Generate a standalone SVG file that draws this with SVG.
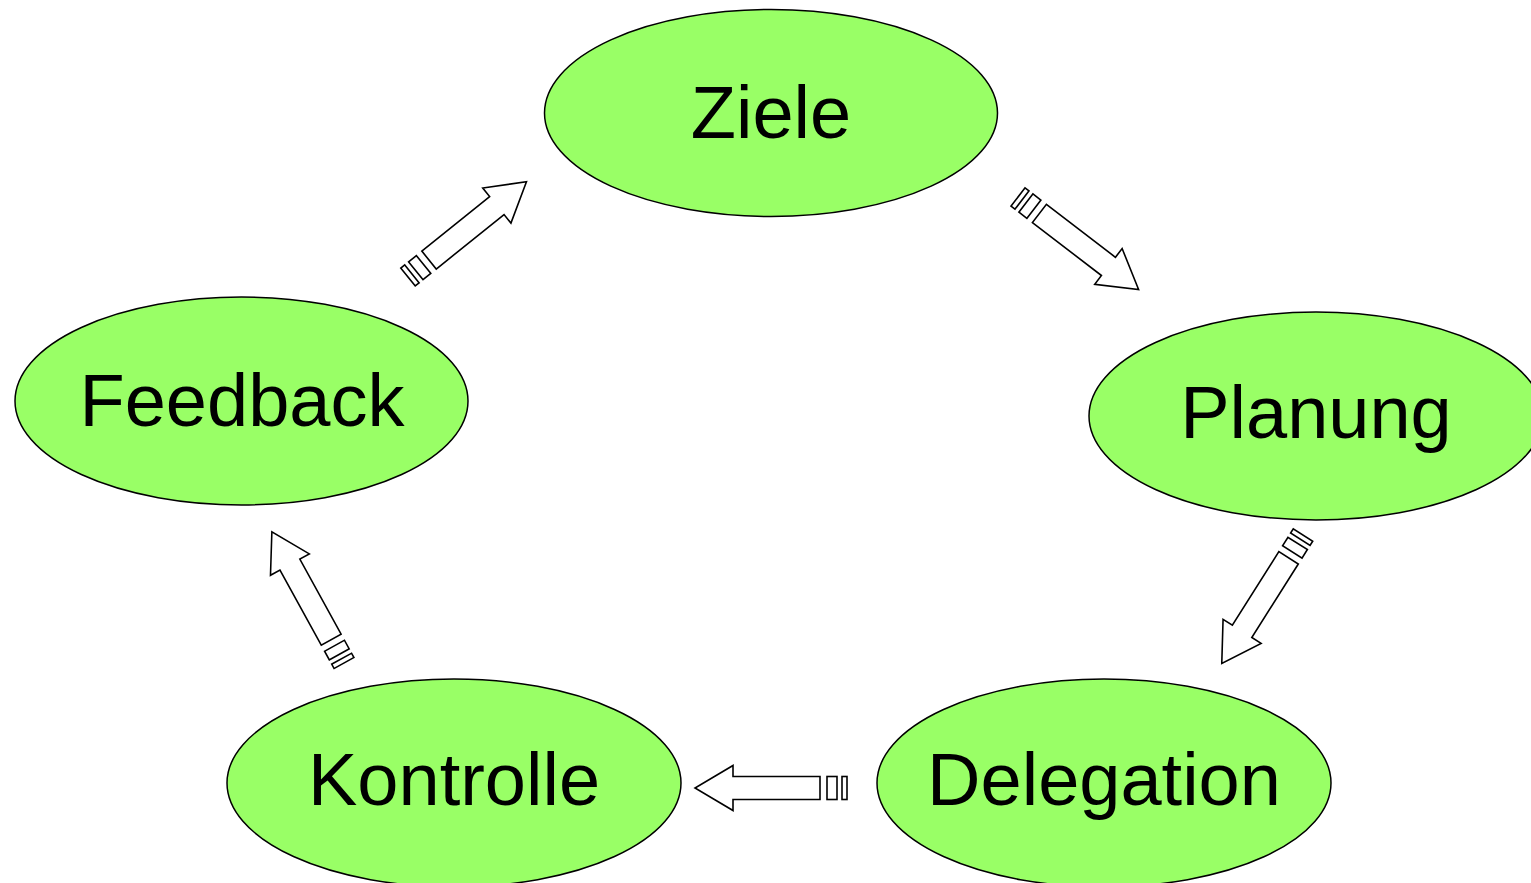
<svg xmlns="http://www.w3.org/2000/svg" xmlns:xlink="http://www.w3.org/1999/xlink" width="1531" height="883" viewBox="0 0 1531 883">
  <style>
    .node ellipse { fill: #99ff66; stroke: #000; stroke-width: 1.5; }
    .node text { font-family: "Liberation Sans", Arial, sans-serif; font-size: 74px; fill: #000; text-anchor: middle; }
    .arrow path, .arrow rect { fill: #fff; stroke: #000; stroke-width: 1.6; stroke-linejoin: miter; }
  </style>
  <defs>
    <!-- block arrow with striped tail; tail at origin, pointing along +x -->
    <g id="blockArrow" class="arrow">
      <rect x="0" y="-11.5" width="5" height="23"/>
      <rect x="10" y="-11.5" width="10" height="23"/>
      <path d="M27,-11.5 H114 V-22.5 L152,0 L114,22.5 V11.5 H27 Z"/>
    </g>
  </defs>
  <rect width="1531" height="883" fill="#fff"/>

  <g id="node-ziele" class="node">
    <ellipse cx="771" cy="113" rx="226.5" ry="103.5"/>
    <text x="771" y="138">Ziele</text>
  </g>
  <g id="node-planung" class="node">
    <ellipse cx="1316" cy="416" rx="227" ry="104"/>
    <text x="1316" y="438">Planung</text>
  </g>
  <g id="node-delegation" class="node">
    <ellipse cx="1104" cy="783" rx="227" ry="104"/>
    <text x="1104" y="805">Delegation</text>
  </g>
  <g id="node-kontrolle" class="node">
    <ellipse cx="454" cy="783" rx="227" ry="104"/>
    <text x="454" y="805">Kontrolle</text>
  </g>
  <g id="node-feedback" class="node">
    <ellipse cx="241.5" cy="401" rx="226.5" ry="104"/>
    <text x="242" y="426">Feedback</text>
  </g>

  <g id="connectors">
    <use xlink:href="#blockArrow" transform="translate(408,277) rotate(-38.8)"/>
    <use xlink:href="#blockArrow" transform="translate(1018,197) rotate(37.5)"/>
    <use xlink:href="#blockArrow" transform="translate(1303,535) rotate(122.3)"/>
    <use xlink:href="#blockArrow" transform="translate(847,788) rotate(180)"/>
    <use xlink:href="#blockArrow" transform="translate(344,663) rotate(-118.8) scale(0.985)"/>
  </g>
</svg>
